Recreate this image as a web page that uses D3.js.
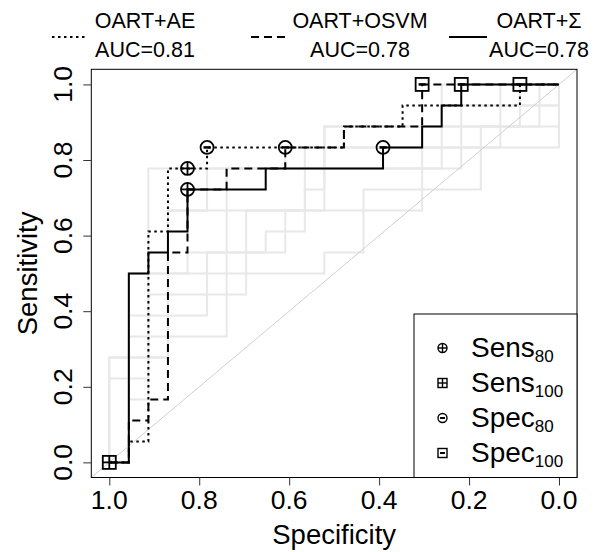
<!DOCTYPE html>
<html><head><meta charset="utf-8">
<script src="https://cdn.jsdelivr.net/npm/d3@7"></script>
<style>body{margin:0;background:#fff}svg{display:block}text{font-family:"Liberation Sans",Arial,sans-serif}</style>
</head><body>
<script>
// ---- data ----
const nNeg = 23, nPos = 18;            // negatives / positives (step sizes)
const seriesNames = ["OART+AE", "OART+OSVM", "OART+\u03A3"];
const aucLabels = ["AUC=0.81", "AUC=0.78", "AUC=0.78"];
// ROC corners as (false-positive count, true-positive count)
const aeFP   = [0,1,1,2,2,3,3,5,5,12,12,15,15,21,21,23];
const aeTP   = [0,0,1,1,11,11,14,14,15,15,16,16,17,17,18,18];
const osvmFP = [0,1,1,2,2,3,3,4,4,6,6,9,9,12,12,16,16,23];
const osvmTP = [0,0,2,2,3,3,10,10,13,13,14,14,15,15,16,16,18,18];
const sigFP  = [0,1,1,2,2,3,3,4,4,8,8,14,14,16,16,17,17,18,18,23];
const sigTP  = [0,0,9,9,10,10,11,11,13,13,14,14,15,15,16,16,17,17,18,18];
// background (grey) ROC curves, same (FP, TP) corner form
const greyCurves = [
  [[0,0],[0,5],[3,5],[3,12],[16,12],[16,15],[23,15],[23,18]],
  [[0,0],[0,4],[2,4],[2,14],[17,14],[17,16],[22,16],[22,18],[23,18]],
  [[0,0],[1,0],[1,6],[6,6],[6,14],[18,14],[18,17],[23,17],[23,18]],
  [[0,0],[1,0],[1,3],[2,3],[2,8],[7,8],[7,12],[11,12],[11,16],[21,16],[21,18],[23,18]],
  [[0,0],[1,0],[1,7],[5,7],[5,10],[9,10],[9,12],[10,12],[10,15],[20,15],[20,17],[23,17],[23,18]],
  [[0,0],[1,0],[1,9],[11,9],[11,10],[13,10],[13,13],[19,13],[19,16],[23,16],[23,18]],
  [[0,0],[1,0],[1,9],[4,9],[4,10],[8,10],[8,11],[10,11],[10,13],[11,13],[11,16],[17,16],[17,17],[20,17],[20,18],[23,18]],
  [[0,0],[0,5],[3,5],[3,12],[5,12],[5,14],[9,14],[9,15],[16,15],[16,16],[17,16],[17,18],[23,18]]
];
// highlighted operating points (FP, TP)
const sens80Pts  = [[4,14],[4,13]];
const sens100Pts = [[0,0]];
const spec80Pts  = [[5,15],[9,15],[14,15]];
const spec100Pts = [[21,18],[16,18],[18,18]];
const tickVals = [1.0,0.8,0.6,0.4,0.2,0.0];
const tickLabels = ["1.0","0.8","0.6","0.4","0.2","0.0"];
const legendNames = [["Sens","80"],["Sens","100"],["Spec","80"],["Spec","100"]];

// ---- drawing ----
const W = 595, H = 552;
const L = 91.3, R = 577, T = 69.3, B = 477.5;
const svg = d3.select("body").append("svg").attr("width", W).attr("height", H);
const x = d3.scaleLinear().domain([1.04, -0.04]).range([L, R]);
const y = d3.scaleLinear().domain([-0.04, 1.04]).range([B, T]);
const spec = fp => 1 - fp / nNeg, sens = tp => tp / nPos;
const line = d3.line().x(d => x(spec(d[0]))).y(d => y(sens(d[1])));

const plot = svg.append("g");
// grey curves
greyCurves.forEach(c => plot.append("path").attr("d", line(c))
  .attr("fill","none").attr("stroke","#e8e8e8").attr("stroke-width",2));
// diagonal
plot.append("line").attr("x1", x(1.04)).attr("y1", y(-0.04)).attr("x2", x(-0.04)).attr("y2", y(1.04))
  .attr("stroke","#d0d0d0").attr("stroke-width",1);

const styles = [
  {dash:"2.5,3.5"}, {dash:"8,5"}, {dash:null}
];
const series = [[aeFP,aeTP],[osvmFP,osvmTP],[sigFP,sigTP]];
series.forEach((s,i) => {
  const pts = s[0].map((v,k) => [v, s[1][k]]);
  const p = plot.append("path").attr("d", line(pts)).attr("fill","none")
    .attr("stroke","#000").attr("stroke-width",2).attr("stroke-linecap","butt");
  if (styles[i].dash) p.attr("stroke-dasharray", styles[i].dash);
});

function marker(g, cx, cy, shape, sign, r, sw) {
  if (shape === "circle") g.append("circle").attr("cx",cx).attr("cy",cy).attr("r",r)
    .attr("fill","none").attr("stroke","#000").attr("stroke-width",sw);
  else g.append("rect").attr("x",cx-r).attr("y",cy-r).attr("width",2*r).attr("height",2*r)
    .attr("fill","none").attr("stroke","#000").attr("stroke-width",sw);
  const hl = sign === "plus" ? r : r*0.55;
  g.append("line").attr("x1",cx-hl).attr("x2",cx+hl).attr("y1",cy).attr("y2",cy)
    .attr("stroke","#000").attr("stroke-width", sign === "plus" ? sw : sw*1.4);
  if (sign === "plus") g.append("line").attr("x1",cx).attr("x2",cx).attr("y1",cy-r).attr("y2",cy+r)
    .attr("stroke","#000").attr("stroke-width",sw);
}
const mk = plot.append("g");
sens80Pts.forEach(d => marker(mk, x(spec(d[0])), y(sens(d[1])), "circle","plus",6.5,1.8));
sens100Pts.forEach(d => marker(mk, x(spec(d[0])), y(sens(d[1])), "rect","plus",6.5,1.8));
spec80Pts.forEach(d => marker(mk, x(spec(d[0])), y(sens(d[1])), "circle","minus",6.5,1.8));
spec100Pts.forEach(d => marker(mk, x(spec(d[0])), y(sens(d[1])), "rect","minus",6.5,1.8));

// box
svg.append("rect").attr("x",L).attr("y",T).attr("width",R-L).attr("height",B-T)
  .attr("fill","none").attr("stroke","#000").attr("stroke-width",1);

// axes
const xAxis = d3.axisBottom(x).tickValues(tickVals).tickFormat((d,i)=>tickLabels[i]).tickSize(8).tickPadding(0);
const gx = svg.append("g").attr("transform",`translate(0,${B})`).call(xAxis);
gx.select(".domain").remove();
gx.selectAll("text").remove();
tickVals.forEach((v,i)=> svg.append("text").attr("x",x(v)).attr("y",509).attr("text-anchor","middle")
  .attr("font-size",26.5).text(tickLabels[i]));
const yAxis = d3.axisLeft(y).tickValues(tickVals).tickFormat((d,i)=>tickLabels[i]).tickSize(8);
const gy = svg.append("g").attr("transform",`translate(${L},0)`).call(yAxis);
gy.select(".domain").remove();
gy.selectAll("text").remove();
tickVals.forEach((v,i)=> svg.append("text").attr("transform",`translate(72,${y(v)}) rotate(-90)`)
  .attr("text-anchor","middle").attr("font-size",26.5).text(tickLabels[i]));
svg.selectAll(".tick line").attr("stroke","#333");
svg.append("text").attr("x",(L+R)/2).attr("y",544).attr("text-anchor","middle").attr("font-size",27.5).text("Specificity");
svg.append("text").attr("transform",`translate(37,${(T+B)/2}) rotate(-90)`).attr("text-anchor","middle")
  .attr("font-size",27.5).text("Sensitivity");

// top legend
const sampleX = [[52,88],[251,289],[449,487]];
const textCX = [145,360,539];
series.forEach((s,i) => {
  const l = svg.append("line").attr("x1",sampleX[i][0]).attr("x2",sampleX[i][1]).attr("y1",37).attr("y2",37)
    .attr("stroke","#000").attr("stroke-width",2);
  if (styles[i].dash) l.attr("stroke-dasharray", styles[i].dash);
  svg.append("text").attr("x",textCX[i]).attr("y",28).attr("text-anchor","middle").attr("font-size",21.5).text(seriesNames[i]);
  svg.append("text").attr("x",textCX[i]).attr("y",57).attr("text-anchor","middle").attr("font-size",21.5).text(aucLabels[i]);
});

// marker legend
const lg = svg.append("g");
lg.append("rect").attr("x",414).attr("y",314).attr("width",R-414).attr("height",B-314)
  .attr("fill","#fff").attr("stroke","#000").attr("stroke-width",1);
const shapes = [["circle","plus"],["rect","plus"],["circle","minus"],["rect","minus"]];
legendNames.forEach((n,i) => {
  const cy = 348 + i*35;
  marker(lg, 442.5, cy, shapes[i][0], shapes[i][1], 4.5, 1.4);
  const t = lg.append("text").attr("x",471).attr("y",cy+9).attr("font-size",28);
  t.append("tspan").text(n[0]);
  t.append("tspan").attr("font-size",17).attr("dy",5).text(n[1]);
});
</script>
</body></html>
